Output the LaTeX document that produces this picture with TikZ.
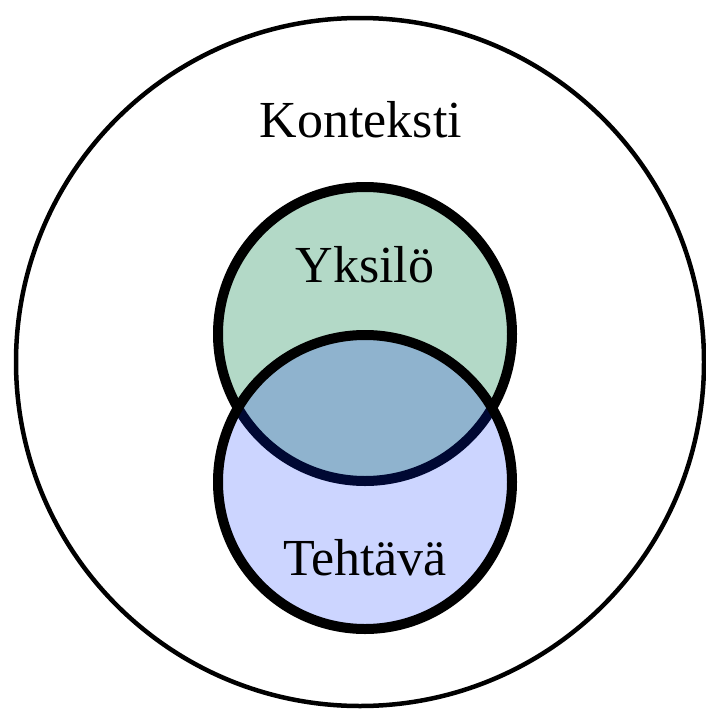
\documentclass[tikz,border=0pt]{standalone}
\usepackage{fontspec}
\setmainfont{Liberation Serif}
\definecolor{yfill}{RGB}{179,217,199}
\definecolor{tfill}{RGB}{204,213,255}
\definecolor{ofill}{RGB}{143,179,206}
\definecolor{navy}{RGB}{0,8,51}
\tikzset{
  lbl/.style={font=\fontsize{52}{60}\selectfont, anchor=base, inner sep=0pt},
  ring/.style={draw=black, line width=10pt},
}
\begin{document}
\begin{tikzpicture}[x=1pt,y=-1pt]
\useasboundingbox (0,0) rectangle (705,712);
% outer context
\draw[line width=4.5pt] (360,362) circle[radius=344];
% fills
\fill[yfill] (365,334) circle[radius=147];
\fill[tfill] (365,482) circle[radius=147];
\begin{scope}
  \clip (365,334) circle[radius=147];
  \fill[ofill] (365,482) circle[radius=147];
\end{scope}
% top circle stroke: navy inside the lower circle, black outside
\begin{scope}
  \clip (365,482) circle[radius=147];
  \draw[navy, line width=10pt] (365,334) circle[radius=147];
\end{scope}
\begin{scope}[even odd rule]
  \clip (0,0) rectangle (705,712) (365,482) circle[radius=147];
  \draw[ring] (365,334) circle[radius=147];
\end{scope}
\draw[ring] (365,482) circle[radius=147];
% labels
\node[lbl] (k) at (361,137) {Konteksti};
\node[lbl] (y) at (365,282) {Yksilö};
\node[lbl] (t) at (365,575) {Tehtävä};
\end{tikzpicture}
\end{document}
